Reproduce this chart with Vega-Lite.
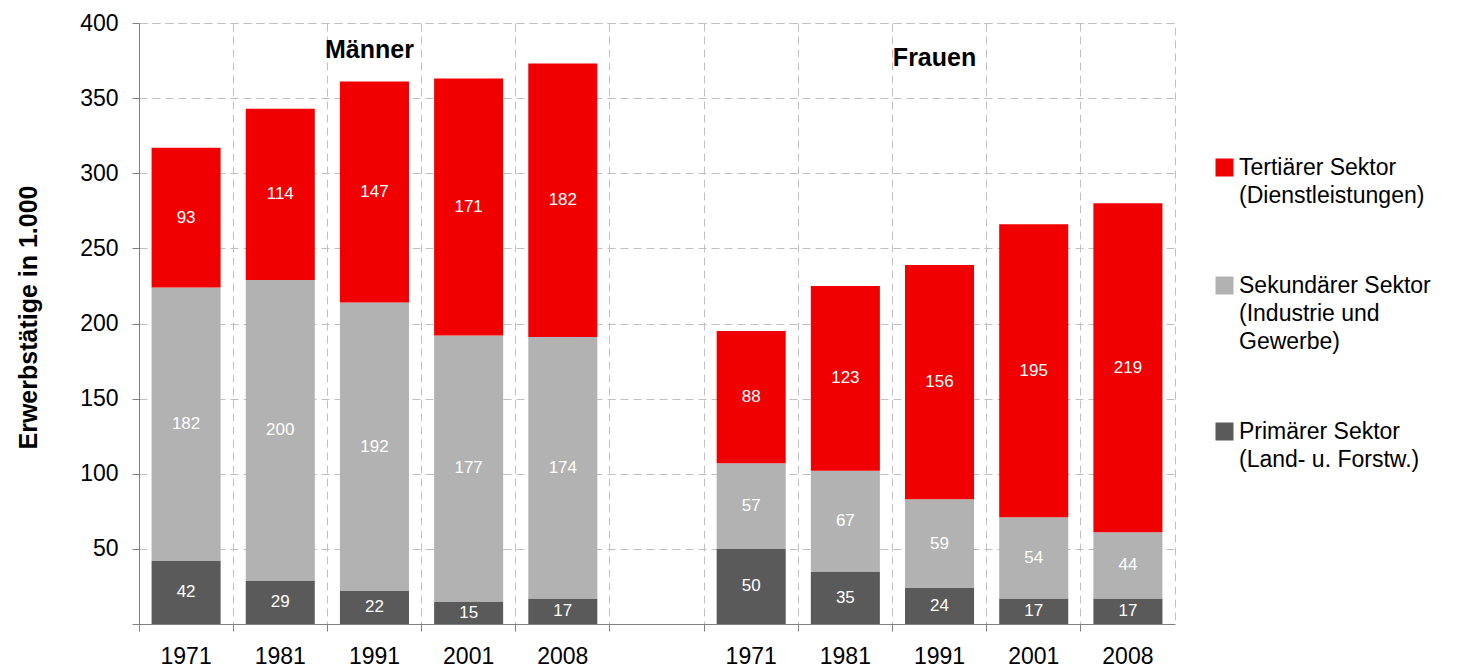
{
  "$schema": "https://vega.github.io/schema/vega-lite/v6.json",
  "width": 1036,
  "height": 601,
  "autosize": "none",
  "padding": {"left": 139, "top": 23, "right": 286, "bottom": 48},
  "background": "white",
  "config": {
    "font": "Liberation Sans",
    "view": {"stroke": "#c0c0c0", "strokeDash": [8, 5]}
  },
  "datasets": {
    "werte": [
      {"cat": "M1971", "sektor": "Primärer Sektor (Land- u. Forstw.)", "wert": 42},
      {"cat": "M1971", "sektor": "Sekundärer Sektor (Industrie und Gewerbe)", "wert": 182},
      {"cat": "M1971", "sektor": "Tertiärer Sektor (Dienstleistungen)", "wert": 93},
      {"cat": "M1981", "sektor": "Primärer Sektor (Land- u. Forstw.)", "wert": 29},
      {"cat": "M1981", "sektor": "Sekundärer Sektor (Industrie und Gewerbe)", "wert": 200},
      {"cat": "M1981", "sektor": "Tertiärer Sektor (Dienstleistungen)", "wert": 114},
      {"cat": "M1991", "sektor": "Primärer Sektor (Land- u. Forstw.)", "wert": 22},
      {"cat": "M1991", "sektor": "Sekundärer Sektor (Industrie und Gewerbe)", "wert": 192},
      {"cat": "M1991", "sektor": "Tertiärer Sektor (Dienstleistungen)", "wert": 147},
      {"cat": "M2001", "sektor": "Primärer Sektor (Land- u. Forstw.)", "wert": 15},
      {"cat": "M2001", "sektor": "Sekundärer Sektor (Industrie und Gewerbe)", "wert": 177},
      {"cat": "M2001", "sektor": "Tertiärer Sektor (Dienstleistungen)", "wert": 171},
      {"cat": "M2008", "sektor": "Primärer Sektor (Land- u. Forstw.)", "wert": 17},
      {"cat": "M2008", "sektor": "Sekundärer Sektor (Industrie und Gewerbe)", "wert": 174},
      {"cat": "M2008", "sektor": "Tertiärer Sektor (Dienstleistungen)", "wert": 182},
      {"cat": "F1971", "sektor": "Primärer Sektor (Land- u. Forstw.)", "wert": 50},
      {"cat": "F1971", "sektor": "Sekundärer Sektor (Industrie und Gewerbe)", "wert": 57},
      {"cat": "F1971", "sektor": "Tertiärer Sektor (Dienstleistungen)", "wert": 88},
      {"cat": "F1981", "sektor": "Primärer Sektor (Land- u. Forstw.)", "wert": 35},
      {"cat": "F1981", "sektor": "Sekundärer Sektor (Industrie und Gewerbe)", "wert": 67},
      {"cat": "F1981", "sektor": "Tertiärer Sektor (Dienstleistungen)", "wert": 123},
      {"cat": "F1991", "sektor": "Primärer Sektor (Land- u. Forstw.)", "wert": 24},
      {"cat": "F1991", "sektor": "Sekundärer Sektor (Industrie und Gewerbe)", "wert": 59},
      {"cat": "F1991", "sektor": "Tertiärer Sektor (Dienstleistungen)", "wert": 156},
      {"cat": "F2001", "sektor": "Primärer Sektor (Land- u. Forstw.)", "wert": 17},
      {"cat": "F2001", "sektor": "Sekundärer Sektor (Industrie und Gewerbe)", "wert": 54},
      {"cat": "F2001", "sektor": "Tertiärer Sektor (Dienstleistungen)", "wert": 195},
      {"cat": "F2008", "sektor": "Primärer Sektor (Land- u. Forstw.)", "wert": 17},
      {"cat": "F2008", "sektor": "Sekundärer Sektor (Industrie und Gewerbe)", "wert": 44},
      {"cat": "F2008", "sektor": "Tertiärer Sektor (Dienstleistungen)", "wert": 219}
    ],
    "gruppen": [
      {"gruppe": "Männer", "cat": "M1991", "hoehe": 382},
      {"gruppe": "Frauen", "cat": "F1991", "hoehe": 376.7}
    ]
  },
  "layer": [
    {
      "data": {"name": "werte"},
      "mark": {"type": "bar", "width": {"band": 0.733}},
      "encoding": {
        "x": {
          "field": "cat",
          "type": "nominal",
          "sort": null,
          "scale": {
            "domain": ["M1971", "M1981", "M1991", "M2001", "M2008", "gap", "F1971", "F1981", "F1991", "F2001", "F2008"],
            "paddingInner": 0,
            "paddingOuter": 0
          },
          "axis": {
            "title": null,
            "bandPosition": 0,
            "labelOffset": 0,
            "labelAngle": 0,
            "labelExpr": "datum.value == 'gap' ? '' : slice(datum.value, 1)",
            "labelFontSize": 23,
            "labelColor": "#000000",
            "labelPadding": 14,
            "tickSize": 7,
            "tickColor": "#808080",
            "domainColor": "#808080",
            "grid": true,
            "gridColor": "#c0c0c0",
            "gridDash": [8, 5],
            "gridWidth": 1
          }
        },
        "y": {
          "field": "wert",
          "type": "quantitative",
          "stack": "zero",
          "scale": {"domain": [0, 400], "nice": false},
          "axis": {
            "title": "Erwerbstätige in 1.000",
            "titleFontSize": 25,
            "titleFontWeight": "bold",
            "titleColor": "#000000",
            "titleX": -111,
            "titleY": 294,
            "titleBaseline": "middle",
            "titleAngle": -90,
            "values": [0, 50, 100, 150, 200, 250, 300, 350, 400],
            "labelExpr": "datum.value == 0 ? '' : datum.label",
            "labelFontSize": 23,
            "labelColor": "#000000",
            "labelPadding": 14,
            "tickSize": 7,
            "tickColor": "#808080",
            "domainColor": "#808080",
            "grid": true,
            "gridColor": "#c0c0c0",
            "gridDash": [8, 5],
            "gridWidth": 1
          }
        },
        "order": {"field": "sektor", "sort": "ascending"},
        "color": {
          "field": "sektor",
          "type": "nominal",
          "scale": {
            "domain": ["Tertiärer Sektor (Dienstleistungen)", "Sekundärer Sektor (Industrie und Gewerbe)", "Primärer Sektor (Land- u. Forstw.)"],
            "range": ["#f00000", "#b2b2b2", "#5a5a5a"]
          },
          "legend": {
            "title": null,
            "orient": "none",
            "legendX": 1074,
            "legendY": 133,
            "padding": 0,
            "symbolType": "square",
            "symbolSize": 324,
            "symbolStrokeWidth": 0,
            "symbolOpacity": 1,
            "labelFontSize": 23,
            "labelColor": "#000000",
            "labelOffset": 3,
            "labelLimit": 400,
            "rowPadding": 66,
            "labelExpr": "datum.value == 'Tertiärer Sektor (Dienstleistungen)' ? ['Tertiärer Sektor', '(Dienstleistungen)'] : datum.value == 'Sekundärer Sektor (Industrie und Gewerbe)' ? ['Sekundärer Sektor', '(Industrie und', 'Gewerbe)'] : ['Primärer Sektor', '(Land- u. Forstw.)']",
            "encode": {
              "labels": {"update": {"lineHeight": {"value": 28}}}
            }
          }
        }
      }
    },
    {
      "data": {"name": "werte"},
      "mark": {"type": "text", "color": "white", "fontSize": 17, "baseline": "middle", "align": "center"},
      "encoding": {
        "x": {"field": "cat", "type": "nominal", "sort": null},
        "y": {"field": "wert", "type": "quantitative", "stack": "zero", "bandPosition": 0.5},
        "order": {"field": "sektor", "sort": "ascending"},
        "detail": {"field": "sektor"},
        "text": {"field": "wert", "type": "quantitative"}
      }
    },
    {
      "data": {"name": "gruppen"},
      "mark": {"type": "text", "fontSize": 25, "fontWeight": "bold", "color": "#000000", "baseline": "middle", "align": "center", "dx": -5},
      "encoding": {
        "x": {"field": "cat", "type": "nominal", "sort": null},
        "y": {"field": "hoehe", "type": "quantitative"},
        "text": {"field": "gruppe"}
      }
    }
  ]
}
